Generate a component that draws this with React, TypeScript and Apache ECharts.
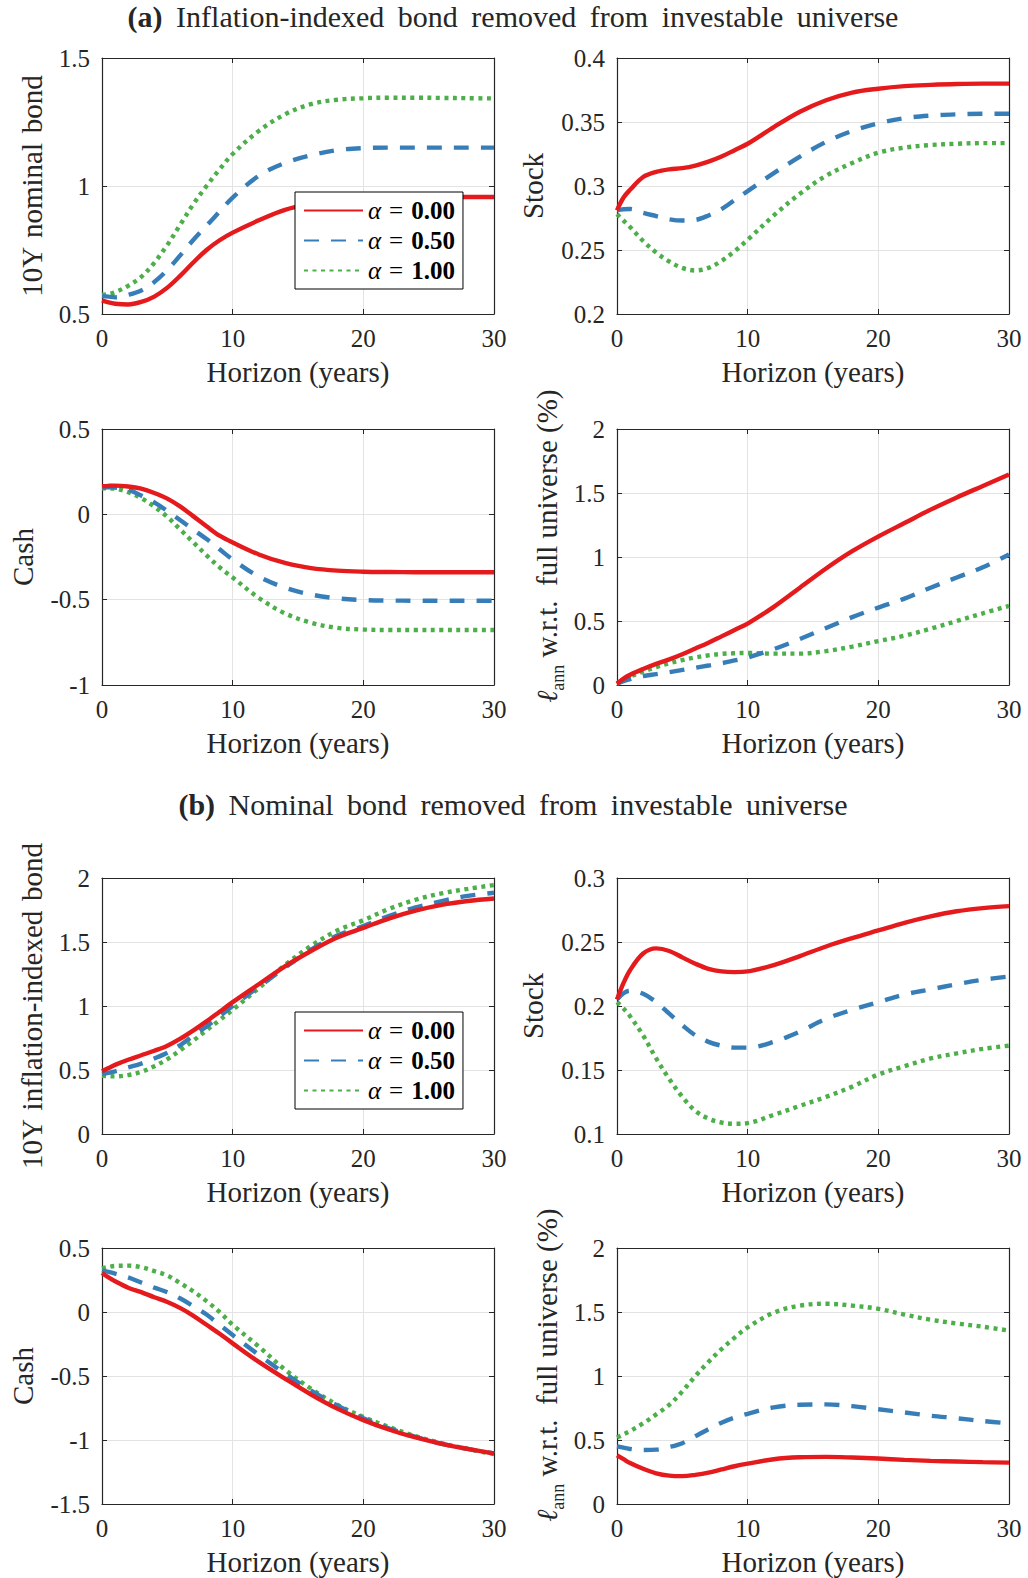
import React, { useEffect, useRef } from 'react';
import * as echarts from 'echarts';

// ---------- data ----------
const horizon = [0, 0.5, 1, 2, 3, 4, 5, 6, 7, 8, 9, 10, 12, 14, 16, 18, 20, 22, 24, 26, 28, 30];
const alphaNames = ['α = 0.00', 'α = 0.50', 'α = 1.00'];
const xTicks = { min: 0, max: 30, interval: 10 };

// (a) Inflation-indexed bond removed
const nomBondA0 = [0.553, 0.545, 0.54, 0.537, 0.547, 0.568, 0.603, 0.65, 0.702, 0.75, 0.788, 0.818, 0.866, 0.907, 0.93, 0.945, 0.952, 0.955, 0.957, 0.957, 0.957, 0.957];
const nomBondA5 = [0.57, 0.568, 0.565, 0.575, 0.592, 0.625, 0.672, 0.73, 0.79, 0.845, 0.9, 0.955, 1.04, 1.09, 1.12, 1.14, 1.148, 1.15, 1.15, 1.15, 1.15, 1.15];
const nomBondA10 = [0.575, 0.578, 0.585, 0.61, 0.645, 0.7, 0.77, 0.85, 0.93, 1.0, 1.065, 1.125, 1.215, 1.28, 1.32, 1.337, 1.343, 1.345, 1.345, 1.344, 1.343, 1.342];

const stockA0 = [0.281, 0.291, 0.297, 0.307, 0.311, 0.313, 0.314, 0.316, 0.319, 0.323, 0.328, 0.333, 0.346, 0.358, 0.367, 0.373, 0.376, 0.378, 0.379, 0.3797, 0.38, 0.38];
const stockA5 = [0.281, 0.2818, 0.282, 0.279, 0.2765, 0.274, 0.273, 0.2735, 0.277, 0.282, 0.289, 0.296, 0.31, 0.323, 0.3345, 0.343, 0.349, 0.353, 0.355, 0.356, 0.3565, 0.3565];
const stockA10 = [0.278, 0.273, 0.268, 0.257, 0.248, 0.241, 0.236, 0.234, 0.236, 0.2415, 0.249, 0.258, 0.277, 0.294, 0.308, 0.318, 0.326, 0.33, 0.332, 0.333, 0.3335, 0.3335];

const cashA0 = [0.165, 0.167, 0.168, 0.163, 0.15, 0.125, 0.092, 0.045, -0.012, -0.07, -0.125, -0.165, -0.235, -0.285, -0.315, -0.33, -0.336, -0.338, -0.339, -0.339, -0.339, -0.339];
const cashA5 = [0.157, 0.158, 0.157, 0.145, 0.11, 0.07, 0.02, -0.035, -0.09, -0.145, -0.205, -0.265, -0.365, -0.43, -0.47, -0.492, -0.502, -0.505, -0.506, -0.506, -0.506, -0.506];
const cashA10 = [0.153, 0.152, 0.15, 0.13, 0.095, 0.045, -0.015, -0.09, -0.165, -0.24, -0.31, -0.37, -0.49, -0.58, -0.635, -0.665, -0.675, -0.678, -0.678, -0.678, -0.678, -0.678];

const lossA0 = [0.01, 0.05, 0.08, 0.125, 0.165, 0.2, 0.24, 0.285, 0.33, 0.38, 0.43, 0.48, 0.61, 0.76, 0.91, 1.045, 1.16, 1.265, 1.37, 1.465, 1.555, 1.645];
const lossA5 = [0.01, 0.03, 0.045, 0.07, 0.085, 0.1, 0.118, 0.135, 0.152, 0.17, 0.192, 0.215, 0.28, 0.36, 0.445, 0.53, 0.605, 0.675, 0.76, 0.84, 0.92, 1.02];
const lossA10 = [0.01, 0.04, 0.065, 0.105, 0.14, 0.17, 0.195, 0.215, 0.232, 0.243, 0.248, 0.25, 0.245, 0.245, 0.265, 0.3, 0.343, 0.385, 0.44, 0.5, 0.56, 0.618];

// (b) Nominal bond removed
const iiBondB0 = [0.49, 0.515, 0.54, 0.58, 0.615, 0.65, 0.69, 0.745, 0.81, 0.88, 0.955, 1.03, 1.17, 1.31, 1.43, 1.535, 1.61, 1.685, 1.745, 1.79, 1.82, 1.84];
const iiBondB5 = [0.47, 0.478, 0.49, 0.52, 0.55, 0.59, 0.635, 0.695, 0.77, 0.84, 0.92, 1.0, 1.15, 1.3, 1.44, 1.55, 1.625, 1.705, 1.77, 1.82, 1.86, 1.885];
const iiBondB10 = [0.455, 0.452, 0.45, 0.46, 0.485, 0.53, 0.585, 0.655, 0.73, 0.81, 0.89, 0.97, 1.14, 1.32, 1.47, 1.59, 1.67, 1.76, 1.83, 1.88, 1.915, 1.945];

const stockB0 = [0.205, 0.218, 0.228, 0.241, 0.245, 0.243, 0.238, 0.233, 0.229, 0.227, 0.2265, 0.227, 0.232, 0.239, 0.2465, 0.253, 0.259, 0.265, 0.27, 0.274, 0.2765, 0.278];
const stockB5 = [0.205, 0.21, 0.212, 0.2095, 0.203, 0.194, 0.185, 0.177, 0.172, 0.169, 0.1675, 0.1675, 0.172, 0.18, 0.19, 0.197, 0.203, 0.209, 0.213, 0.217, 0.2205, 0.223];
const stockB10 = [0.203, 0.198, 0.192, 0.177, 0.159, 0.143, 0.129, 0.118, 0.112, 0.109, 0.108, 0.1085, 0.115, 0.122, 0.129, 0.137, 0.1465, 0.153, 0.159, 0.163, 0.1665, 0.169];

const cashB0 = [0.305, 0.27, 0.24, 0.19, 0.155, 0.115, 0.078, 0.03, -0.03, -0.1, -0.17, -0.245, -0.39, -0.52, -0.645, -0.755, -0.845, -0.92, -0.98, -1.03, -1.07, -1.105];
const cashB5 = [0.325, 0.313, 0.3, 0.27, 0.23, 0.19, 0.155, 0.105, 0.045, -0.02, -0.1, -0.18, -0.335, -0.48, -0.615, -0.73, -0.83, -0.91, -0.975, -1.03, -1.07, -1.105];
const cashB10 = [0.34, 0.352, 0.36, 0.362, 0.35, 0.32, 0.285, 0.225, 0.16, 0.085, 0.0, -0.1, -0.27, -0.45, -0.6, -0.725, -0.82, -0.9, -0.97, -1.025, -1.07, -1.11];

const lossB0 = [0.38, 0.35, 0.32, 0.275, 0.24, 0.222, 0.218, 0.228, 0.245, 0.27, 0.295, 0.315, 0.35, 0.365, 0.368, 0.363, 0.355, 0.345, 0.337, 0.332, 0.327, 0.323];
const lossB5 = [0.45, 0.44, 0.43, 0.422, 0.425, 0.445, 0.475, 0.53, 0.585, 0.635, 0.675, 0.705, 0.755, 0.775, 0.778, 0.765, 0.74, 0.715, 0.69, 0.67, 0.648, 0.63];
const lossB10 = [0.52, 0.545, 0.57, 0.63, 0.7, 0.775, 0.88, 1.0, 1.11, 1.21, 1.3, 1.38, 1.495, 1.55, 1.565, 1.55, 1.525, 1.48, 1.44, 1.41, 1.385, 1.355];

const titleA = 'Inflation-indexed bond removed from investable universe';
const titleB = 'Nominal bond removed from investable universe';
const nameNomBond = '10Y nominal bond';
const nameIIBond = '10Y inflation-indexed bond';
const nameStock = 'Stock';
const nameCash = 'Cash';
const lossName = '{l|ℓ}{s|ann} w.r.t.  full universe (%)';

// ---------- styling ----------
const SERIF = "'Liberation Serif', serif";
const AX = '#262626';
const GRIDC = '#e3e3e3';
const COLORS = ['#e41a1c', '#377eb8', '#4daf4a'];
const DASHES: any[] = ['solid', [15, 12], [4, 4.5]];
const THIN = (s: string) => s.split(' ').join(' \u2009');
const HAIR = (s: string) => s.split(' ').join(' \u200A');

const COLL = [102, 617];
const ROWT = [58, 429, 878, 1248];
const PW = 392;
const PH = 256;

type Panel = {
  col: number; row: number; yMin: number; yMax: number; yInt: number;
  name: string; gap: number; sets: number[][]; legendTop?: number;
};

const LOSS_LABEL = '\u00A0\u00A0\u00A0' + lossName;

const panels: Panel[] = [
  { col: 0, row: 0, yMin: 0.5, yMax: 1.5, yInt: 0.5, name: HAIR(nameNomBond), gap: 56, sets: [nomBondA0, nomBondA5, nomBondA10], legendTop: 192 },
  { col: 1, row: 0, yMin: 0.2, yMax: 0.4, yInt: 0.05, name: nameStock, gap: 70, sets: [stockA0, stockA5, stockA10] },
  { col: 0, row: 1, yMin: -1, yMax: 0.5, yInt: 0.5, name: nameCash, gap: 65, sets: [cashA0, cashA5, cashA10] },
  { col: 1, row: 1, yMin: 0, yMax: 2, yInt: 0.5, name: LOSS_LABEL, gap: 50, sets: [lossA0, lossA5, lossA10] },
  { col: 0, row: 2, yMin: 0, yMax: 2, yInt: 0.5, name: HAIR(nameIIBond), gap: 56, sets: [iiBondB0, iiBondB5, iiBondB10], legendTop: 1012 },
  { col: 1, row: 2, yMin: 0.1, yMax: 0.3, yInt: 0.05, name: nameStock, gap: 70, sets: [stockB0, stockB5, stockB10] },
  { col: 0, row: 3, yMin: -1.5, yMax: 0.5, yInt: 0.5, name: nameCash, gap: 65, sets: [cashB0, cashB5, cashB10] },
  { col: 1, row: 3, yMin: 0, yMax: 2, yInt: 0.5, name: LOSS_LABEL, gap: 50, sets: [lossB0, lossB5, lossB10] },
];

function buildOption() {
  const grid: any[] = [];
  const xAxis: any[] = [];
  const yAxis: any[] = [];
  const series: any[] = [];
  const legend: any[] = [];
  const lineCommon = { show: true, onZero: false, lineStyle: { color: AX, width: 1.2 } };
  const tickCommon = { show: true, inside: true, length: 5, lineStyle: { color: AX, width: 1 } };
  const labelCommon = { fontFamily: SERIF, fontSize: 25, color: AX, margin: 12 };
  const nameStyle = {
    fontFamily: SERIF, fontSize: 29, color: AX,
    rich: {
      l: { fontFamily: SERIF, fontSize: 29, fontStyle: 'italic', color: AX },
      s: { fontFamily: SERIF, fontSize: 18, color: AX, verticalAlign: 'bottom', lineHeight: 40 },
    },
  };
  panels.forEach((p, i) => {
    grid.push({ left: COLL[p.col], top: ROWT[p.row], width: PW, height: PH, containLabel: false });
    xAxis.push({
      gridIndex: i, type: 'value', position: 'bottom', ...xTicks,
      axisLine: lineCommon, axisTick: tickCommon, axisLabel: labelCommon,
      splitLine: { show: true, showMinLine: false, showMaxLine: false, lineStyle: { color: GRIDC, width: 1 } },
      name: 'Horizon (years)', nameLocation: 'middle', nameGap: 43,
      nameTextStyle: { fontFamily: SERIF, fontSize: 29, color: AX },
    });
    xAxis.push({
      gridIndex: i, type: 'value', position: 'top', ...xTicks,
      axisLine: lineCommon, axisTick: tickCommon, axisLabel: { show: false }, splitLine: { show: false },
    });
    yAxis.push({
      gridIndex: i, type: 'value', position: 'left', min: p.yMin, max: p.yMax, interval: p.yInt,
      axisLine: lineCommon, axisTick: tickCommon, axisLabel: labelCommon,
      splitLine: { show: true, showMinLine: false, showMaxLine: false, lineStyle: { color: GRIDC, width: 1 } },
      name: p.name, nameLocation: 'middle', nameGap: p.gap, nameRotate: 90,
      nameTextStyle: nameStyle,
    });
    yAxis.push({
      gridIndex: i, type: 'value', position: 'right', min: p.yMin, max: p.yMax, interval: p.yInt,
      axisLine: lineCommon, axisTick: tickCommon, axisLabel: { show: false }, splitLine: { show: false },
    });
    p.sets.forEach((vals, k) => {
      series.push({
        type: 'line', name: alphaNames[k], xAxisIndex: 2 * i, yAxisIndex: 2 * i,
        data: horizon.map((x, j) => [x, vals[j]]),
        smooth: 0.35, showSymbol: false, symbol: 'none', clip: true,
        lineStyle: { color: COLORS[k], width: 4.4, type: DASHES[k], cap: 'butt' },
        itemStyle: { color: COLORS[k] },
        z: 3 - k,
      });
    });
    if (p.legendTop !== undefined) {
      legend.push({
        data: alphaNames, orient: 'vertical', left: 295, top: p.legendTop,
        itemWidth: 59, itemHeight: 14, itemGap: 5, padding: [6, 8, 6, 8],
        borderColor: '#000', borderWidth: 1, backgroundColor: '#fff', selectedMode: false,
        itemStyle: { opacity: 0, borderWidth: 0 },
        formatter: (name: string) => {
          const parts = name.split(' = ');
          return '{a|' + parts[0] + '}{e|=}{b|' + parts[1] + '}';
        },
        textStyle: {
          fontFamily: SERIF, fontSize: 25, color: '#000', lineHeight: 24,
          rich: {
            a: { fontFamily: SERIF, fontSize: 25, fontStyle: 'italic', color: '#000' },
            e: { fontFamily: SERIF, fontSize: 25, color: '#000', padding: [0, 8, 0, 8] },
            b: { fontFamily: SERIF, fontSize: 25, fontWeight: 'bold', color: '#000' },
          },
        },
        z: 10,
      });
    }
  });

  const titleRich = { b: { fontFamily: SERIF, fontSize: 30, fontWeight: 'bold', fill: AX } };
  const graphic = [
    { type: 'text', x: 513, y: 16, style: { text: '{b|(a)} \u2009' + THIN(titleA), rich: titleRich, fontFamily: SERIF, fontSize: 30, fill: AX, align: 'center', verticalAlign: 'middle' } },
    { type: 'text', x: 513, y: 804, style: { text: '{b|(b)} \u2009' + THIN(titleB), rich: titleRich, fontFamily: SERIF, fontSize: 30, fill: AX, align: 'center', verticalAlign: 'middle' } },
  ];

  return { animation: false, backgroundColor: '#fff', grid, xAxis, yAxis, series, legend, graphic };
}

export default function App() {
  const ref = useRef<HTMLDivElement>(null);
  useEffect(() => {
    if (!ref.current) return;
    const chart = echarts.init(ref.current, undefined, { renderer: 'svg' });
    chart.setOption(buildOption() as any);
    return () => chart.dispose();
  }, []);
  return (
    <div
      ref={ref}
      style={{ position: 'absolute', left: 0, top: 0, width: 1028, height: 1578, background: '#fff' }}
    />
  );
}
